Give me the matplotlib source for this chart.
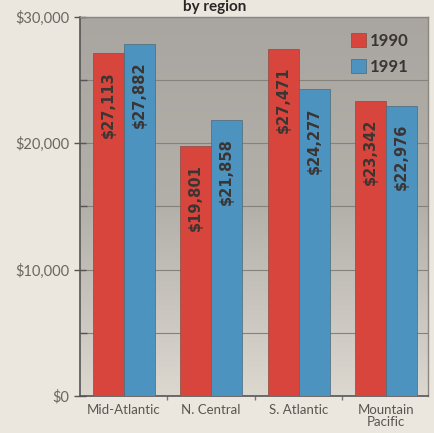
import numpy as np
import matplotlib.pyplot as plt
from matplotlib.ticker import MultipleLocator, FuncFormatter
from matplotlib.colors import LinearSegmentedColormap

# average values by region, 1990 vs 1991
regions = ['Mid-Atlantic', 'N. Central', 'S. Atlantic', 'Mountain\nPacific']
vals_1990 = [27113, 19801, 27471, 23342]
vals_1991 = [27882, 21858, 24277, 22976]
years = ['1990', '1991']

red = '#d8453c'
blue = '#4c93c0'
paper = '#ebe7df'

fig = plt.figure(figsize=(4.35, 4.33), dpi=100, facecolor=paper)
ax = fig.add_axes([0.184, 0.0855, 0.8, 0.8755])

# gray-to-light background of the plot area
grad = np.linspace(0, 1, 256).reshape(-1, 1)
cmap = LinearSegmentedColormap.from_list('bg', ['#a9a6a1', '#b3b0aa', '#dcd8d0'])
ax.imshow(grad, extent=[0, 1, 0, 1], transform=ax.transAxes, cmap=cmap,
          aspect='auto', zorder=0, origin='upper')

x = np.arange(len(regions))
w = 0.355
b1 = ax.bar(x - w / 2, vals_1990, w, color=red, edgecolor='#8c4a40', linewidth=0.5,
            label=years[0], zorder=3)
b2 = ax.bar(x + w / 2, vals_1991, w, color=blue, edgecolor='#4a6a7a', linewidth=0.5,
            label=years[1], zorder=3)

for bars, vals in [(b1, vals_1990), (b2, vals_1991)]:
    for rect, v in zip(bars, vals):
        ax.annotate('${:,}'.format(v), (rect.get_x() + rect.get_width() / 2, v),
                    xytext=(0, -13), textcoords='offset points', rotation=90,
                    ha='center', va='top', fontsize=10.5, fontweight='bold',
                    color='#3a3533', zorder=4)

ax.set_xlim(-0.5, 3.48)
ax.set_ylim(0, 30000)

ax.yaxis.set_major_locator(MultipleLocator(10000))
ax.yaxis.set_minor_locator(MultipleLocator(5000))
ax.yaxis.set_major_formatter(FuncFormatter(lambda v, p: '${:,.0f}'.format(v)))
ax.grid(axis='y', which='both', color='#85817b', linewidth=0.8, zorder=1)
ax.tick_params(axis='y', which='major', direction='inout', length=9, width=1,
               color='#555', labelsize=10.5, labelcolor='#6b6661', pad=3)
ax.tick_params(axis='y', which='minor', direction='in', length=5, width=1, color='#555')
for lab in ax.get_yticklabels():
    lab.set_family('Lato')

ax.set_xticks(x)
ax.set_xticklabels(regions, fontsize=9.5, color='#5a5550', family='Lato', linespacing=0.95)
ax.set_xticks([0.5, 1.5, 2.5], minor=True)
ax.tick_params(axis='x', which='major', length=0, pad=6)
ax.tick_params(axis='x', which='minor', length=3, width=1, color='#777')

for side in ['left', 'bottom']:
    ax.spines[side].set_color('#555')
    ax.spines[side].set_linewidth(1.2)
for side in ['top', 'right']:
    ax.spines[side].set_color('#8a8680')
    ax.spines[side].set_linewidth(1)

leg = ax.legend(loc='upper right', bbox_to_anchor=(0.986, 0.998), frameon=False,
                handlelength=0.9, handleheight=0.9, handletextpad=0.2,
                labelspacing=0.6, prop={'family': 'Lato', 'weight': 'bold', 'size': 12})
for t in leg.get_texts():
    t.set_color('#3a3533')

# title sits at the very top edge, as in the clipped original
fig.text(0.494, 0.999, 'by region', ha='center', va='top', fontsize=11,
         fontweight='bold', color='#2a2624', family='Lato')

fig.savefig('out.png', dpi=100, facecolor=paper)
